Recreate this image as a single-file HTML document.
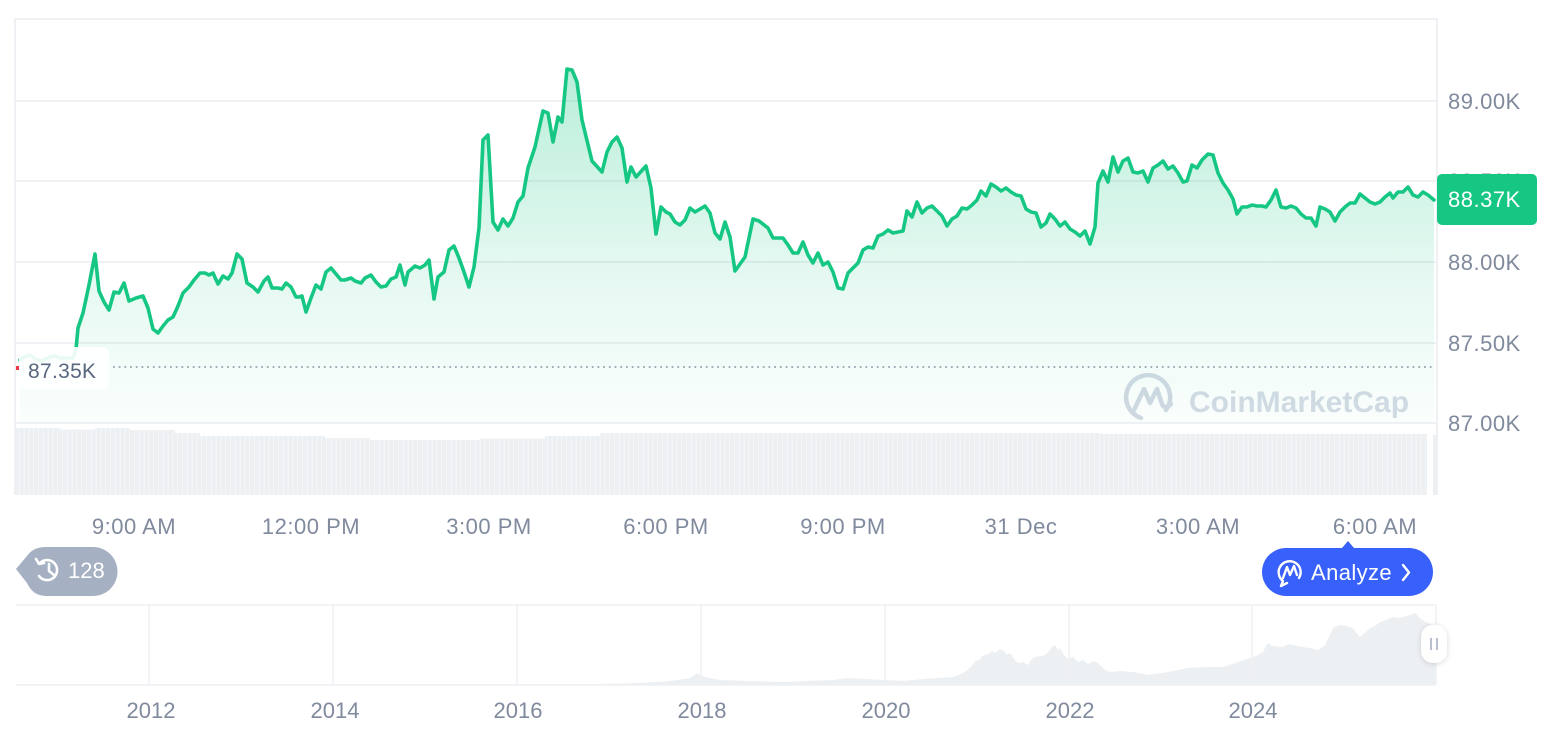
<!DOCTYPE html>
<html><head><meta charset="utf-8"><style>
html,body{margin:0;padding:0;background:#fff;}
svg{display:block;}
text{font-family:"Liberation Sans",sans-serif;}
</style></head><body>
<svg width="1566" height="732" viewBox="0 0 1566 732" xmlns="http://www.w3.org/2000/svg">
<defs>
<linearGradient id="gf" x1="0" y1="70" x2="0" y2="423" gradientUnits="userSpaceOnUse">
<stop offset="0" stop-color="#16c784" stop-opacity="0.30"/>
<stop offset="0.55" stop-color="#16c784" stop-opacity="0.12"/>
<stop offset="1" stop-color="#16c784" stop-opacity="0.02"/>
</linearGradient>
<pattern id="vb" x="15" y="0" width="4.8" height="10" patternUnits="userSpaceOnUse">
<rect x="0" y="0" width="3.9" height="10" fill="#edf0f3"/>
<rect x="3.9" y="0" width="0.9" height="10" fill="#f5f6f8"/>
</pattern>
<filter id="sh" x="-80%" y="-80%" width="260%" height="260%">
<feDropShadow dx="0" dy="1" stdDeviation="3" flood-color="#000" flood-opacity="0.15"/>
</filter>
</defs>

<!-- plot frame -->
<line x1="15" y1="18" x2="15" y2="495" stroke="#eef0f3" stroke-width="2"/>
<line x1="15" y1="19" x2="1437" y2="19" stroke="#eef0f3" stroke-width="2"/>
<line x1="1437" y1="18" x2="1437" y2="495" stroke="#eef0f3" stroke-width="2"/>
<g stroke="#eff1f4" stroke-width="2">
<line x1="15" y1="101" x2="1437" y2="101"/>
<line x1="15" y1="181" x2="1437" y2="181"/>
<line x1="15" y1="262" x2="1437" y2="262"/>
<line x1="15" y1="343" x2="1437" y2="343"/>
<line x1="15" y1="423" x2="1437" y2="423"/>
</g>

<!-- volume bars -->
<polygon fill="url(#vb)" points="16,495 16,428 60,428 60,429.5 95,429.5 95,428 130,428 130,430 175,430 175,433 200,433 200,436 325,436 325,438 370,438 370,440 480,440 480,438.5 545,438.5 545,436 600,436 600,433 1100,433 1100,434 1427,434 1427,495"/>
<rect x="1433" y="435" width="3" height="60" fill="#edf0f3"/>

<!-- watermark -->
<g fill="none" stroke="#d3d9e4" stroke-width="4.5" stroke-linecap="round" stroke-linejoin="round">
<path d="M1166,410 A22,22 0 1 0 1141,418"/>
<path d="M1134,410 L1144,389 L1150,403 L1157,389 L1162,404 Q1164,410 1171,404"/>
</g>
<text x="1189" y="412" font-size="30" font-weight="bold" fill="#d5dbe5">CoinMarketCap</text>

<!-- area fill -->
<polygon fill="url(#gf)" points="20,360 24,357 30,355 35,359 42,361 50,357 55,356 60,358 68,358 73,358 76,349 78,328 83,313 89,285 95,254 99,291 104,302 109,310 114,292 119,293 124,283 129,301 136,298 143,296 148,308 153,329 158,333 163,326 168,320 173,317 178,306 183,293 189,287 194,280 200,273 205,273 209,275 213,273 218,284 223,276 228,279 232,273 237,254 242,259 247,283 253,287 258,292 264,281 268,277 272,288 278,288 282,289 286,283 291,287 296,297 299,297 302,296 306,312 311,298 316,285 321,289 326,272 331,268 336,274 341,280 345,280 351,278 355,281 361,283 365,278 371,275 376,282 381,287 386,286 391,279 396,277 400,265 405,285 408,272 415,266 420,268 425,265 429,260 434,299 438,277 444,272 449,250 454,246 459,258 464,272 469,287 474,267 479,228 483,140 488,135 493,222 498,230 503,219 508,226 513,218 518,202 523,196 528,168 535,147 543,111 548,113 553,142 558,117 562,122 567,69 572,70 577,82 582,120 592,161 602,172 607,152 612,142 617,137 622,148 627,182 631,167 636,177 646,166 651,188 656,234 661,207 666,212 670,214 675,222 680,225 685,220 690,208 695,212 705,206 710,213 715,233 720,239 725,222 730,237 735,271 745,257 753,219 759,221 768,228 773,238 783,238 788,245 793,253 798,253 803,242 808,255 813,263 818,253 823,265 828,262 833,272 838,288 843,289 848,273 853,268 858,263 863,250 868,247 873,248 878,236 883,234 888,230 893,233 903,231 907,211 912,217 917,202 922,213 927,208 932,206 937,211 942,216 947,226 952,219 957,216 962,208 967,209 972,205 977,200 981,191 986,196 991,184 996,187 1001,191 1006,188 1011,192 1016,195 1021,196 1026,209 1031,212 1036,213 1041,227 1046,223 1050,214 1055,219 1060,226 1065,222 1070,229 1075,232 1080,236 1085,231 1090,244 1095,227 1098,183 1103,171 1108,182 1113,157 1118,172 1123,161 1128,158 1133,172 1138,173 1143,171 1148,182 1153,168 1158,165 1163,161 1168,169 1173,166 1178,173 1183,182 1187,181 1192,165 1197,168 1202,160 1208,154 1213,155 1218,173 1223,183 1228,190 1233,199 1237,214 1242,207 1247,207 1252,205 1257,206 1262,206 1266,207 1271,200 1276,190 1281,207 1286,208 1291,206 1296,208 1301,214 1306,218 1311,218 1316,226 1320,207 1325,209 1330,212 1335,221 1340,212 1345,207 1350,203 1355,203 1360,194 1365,198 1370,202 1375,204 1380,202 1385,197 1390,193 1393,198 1398,192 1403,192 1408,187 1413,195 1418,197 1423,192 1428,195 1434,200 1434,423 20,423"/>

<!-- line -->
<polyline fill="none" stroke="#16c784" stroke-width="3.6" stroke-linejoin="round" stroke-linecap="round" points="20,360 24,357 30,355 35,359 42,361 50,357 55,356 60,358 68,358 73,358 76,349 78,328 83,313 89,285 95,254 99,291 104,302 109,310 114,292 119,293 124,283 129,301 136,298 143,296 148,308 153,329 158,333 163,326 168,320 173,317 178,306 183,293 189,287 194,280 200,273 205,273 209,275 213,273 218,284 223,276 228,279 232,273 237,254 242,259 247,283 253,287 258,292 264,281 268,277 272,288 278,288 282,289 286,283 291,287 296,297 299,297 302,296 306,312 311,298 316,285 321,289 326,272 331,268 336,274 341,280 345,280 351,278 355,281 361,283 365,278 371,275 376,282 381,287 386,286 391,279 396,277 400,265 405,285 408,272 415,266 420,268 425,265 429,260 434,299 438,277 444,272 449,250 454,246 459,258 464,272 469,287 474,267 479,228 483,140 488,135 493,222 498,230 503,219 508,226 513,218 518,202 523,196 528,168 535,147 543,111 548,113 553,142 558,117 562,122 567,69 572,70 577,82 582,120 592,161 602,172 607,152 612,142 617,137 622,148 627,182 631,167 636,177 646,166 651,188 656,234 661,207 666,212 670,214 675,222 680,225 685,220 690,208 695,212 705,206 710,213 715,233 720,239 725,222 730,237 735,271 745,257 753,219 759,221 768,228 773,238 783,238 788,245 793,253 798,253 803,242 808,255 813,263 818,253 823,265 828,262 833,272 838,288 843,289 848,273 853,268 858,263 863,250 868,247 873,248 878,236 883,234 888,230 893,233 903,231 907,211 912,217 917,202 922,213 927,208 932,206 937,211 942,216 947,226 952,219 957,216 962,208 967,209 972,205 977,200 981,191 986,196 991,184 996,187 1001,191 1006,188 1011,192 1016,195 1021,196 1026,209 1031,212 1036,213 1041,227 1046,223 1050,214 1055,219 1060,226 1065,222 1070,229 1075,232 1080,236 1085,231 1090,244 1095,227 1098,183 1103,171 1108,182 1113,157 1118,172 1123,161 1128,158 1133,172 1138,173 1143,171 1148,182 1153,168 1158,165 1163,161 1168,169 1173,166 1178,173 1183,182 1187,181 1192,165 1197,168 1202,160 1208,154 1213,155 1218,173 1223,183 1228,190 1233,199 1237,214 1242,207 1247,207 1252,205 1257,206 1262,206 1266,207 1271,200 1276,190 1281,207 1286,208 1291,206 1296,208 1301,214 1306,218 1311,218 1316,226 1320,207 1325,209 1330,212 1335,221 1340,212 1345,207 1350,203 1355,203 1360,194 1365,198 1370,202 1375,204 1380,202 1385,197 1390,193 1393,198 1398,192 1403,192 1408,187 1413,195 1418,197 1423,192 1428,195 1434,200"/>

<!-- open price dotted line + label -->
<line x1="113" y1="367" x2="1435" y2="367" stroke="#9aa1b0" stroke-width="1.8" stroke-dasharray="1.8 3.9"/>
<rect x="19" y="347" width="90" height="42" rx="6" fill="#ffffff" fill-opacity="0.9"/>
<rect x="16" y="366" width="3" height="4" fill="#ea3943"/>
<text x="28" y="378" font-size="21" fill="#58667e" letter-spacing="0.3">87.35K</text>

<!-- y axis labels -->
<g font-size="22" fill="#808a9d" letter-spacing="0.5">
<text x="1448" y="109">89.00K</text>
<text x="1448" y="189">88.50K</text>
<text x="1448" y="270">88.00K</text>
<text x="1448" y="351">87.50K</text>
<text x="1448" y="431">87.00K</text>
</g>
<rect x="1437" y="174" width="100" height="51" rx="5" fill="#16c784"/>
<text x="1448" y="207" font-size="22" fill="#ffffff" letter-spacing="0.5">88.37K</text>

<!-- time axis -->
<g font-size="22" fill="#808a9d" text-anchor="middle" letter-spacing="0.5">
<text x="134" y="534">9:00 AM</text>
<text x="311" y="534">12:00 PM</text>
<text x="489" y="534">3:00 PM</text>
<text x="666" y="534">6:00 PM</text>
<text x="843" y="534">9:00 PM</text>
<text x="1021" y="534">31 Dec</text>
<text x="1198" y="534">3:00 AM</text>
<text x="1375" y="534">6:00 AM</text>
</g>

<!-- history badge -->
<path d="M16,569 L27,556 Q33,547 46,547 L93,547 A24.5,24.5 0 0 1 93,596 L46,596 Q33,596 27,583 Z" fill="#a6b0c3"/>
<g fill="none" stroke="#ffffff" stroke-width="2.6" stroke-linecap="round" stroke-linejoin="round">
<path d="M40,563 A10,10 0 1 1 39,576"/>
<polyline points="36,559 39,564 44,563"/>
<polyline points="49,564 49,571 54,575"/>
</g>
<text x="68" y="578" font-size="22" fill="#ffffff">128</text>

<!-- analyze button -->
<path d="M1342,548 L1348,541 L1354,548 Z" fill="#3861fb"/>
<rect x="1262" y="548" width="171" height="48" rx="24" fill="#3861fb"/>
<g fill="none" stroke="#ffffff" stroke-width="2.4" stroke-linecap="round" stroke-linejoin="round">
<path d="M1299,578 A11,11 0 1 0 1283,581 L1281,586 L1287,583"/>
<path d="M1283,578 L1287,567 L1290,575 L1294,566 L1297,575"/>
<polyline points="1403,565 1409,572.5 1403,580"/>
</g>
<text x="1311" y="580" font-size="22" fill="#ffffff" letter-spacing="0.4">Analyze</text>

<!-- navigator -->
<polygon fill="#edf0f3" points="16,685 16,684 600,684 640,683 670,681 690,678 697,673 705,677 720,680 750,681 783,682 833,680 848,678 883,680 903,681 923,679 953,677 965,672 972,666 975,661 980,660 982,656 988,654 992,651 995,653 1000,649 1003,650 1007,655 1010,653 1015,660 1018,663 1023,662 1028,665 1032,659 1035,657 1040,656 1045,655 1050,650 1052,647 1055,645 1058,650 1060,648 1064,655 1068,659 1073,657 1078,662 1083,660 1088,664 1093,661 1098,663 1102,667 1105,670 1110,672 1120,671 1133,672 1148,675 1168,672 1188,668 1208,667 1223,667 1238,662 1250,658 1258,655 1263,652 1266,646 1268,643 1272,646 1275,646 1283,647 1288,644 1293,645 1298,646 1303,647 1310,648 1318,650 1325,645 1330,635 1333,628 1337,626 1340,625 1347,626 1353,628 1357,634 1360,637 1366,632 1370,628 1375,626 1380,622 1386,620 1393,617 1398,618 1403,617 1410,615 1415,613 1420,618 1425,622 1433,625 1436,626 1436,685"/>
<line x1="16" y1="605" x2="1436" y2="605" stroke="#eff1f4" stroke-width="1.5"/>
<line x1="16" y1="685" x2="1436" y2="685" stroke="#eff1f4" stroke-width="1.5"/>
<line x1="1436" y1="605" x2="1436" y2="685" stroke="#eff1f4" stroke-width="1.5"/>
<g stroke="#eff1f4" stroke-width="1.5">
<line x1="149" y1="605" x2="149" y2="685"/>
<line x1="333" y1="605" x2="333" y2="685"/>
<line x1="517" y1="605" x2="517" y2="685"/>
<line x1="701" y1="605" x2="701" y2="685"/>
<line x1="885" y1="605" x2="885" y2="685"/>
<line x1="1069" y1="605" x2="1069" y2="685"/>
<line x1="1252" y1="605" x2="1252" y2="685"/>
</g>
<g font-size="22" fill="#808a9d" text-anchor="middle">
<text x="151" y="718">2012</text>
<text x="335" y="718">2014</text>
<text x="518" y="718">2016</text>
<text x="702" y="718">2018</text>
<text x="886" y="718">2020</text>
<text x="1070" y="718">2022</text>
<text x="1253" y="718">2024</text>
</g>
<rect x="1421" y="625" width="26" height="38" rx="12" fill="#ffffff" filter="url(#sh)"/>
<g stroke="#a6b0c3" stroke-width="1.6">
<line x1="1431" y1="638" x2="1431" y2="650"/>
<line x1="1437" y1="638" x2="1437" y2="650"/>
</g>
</svg>
</body></html>
